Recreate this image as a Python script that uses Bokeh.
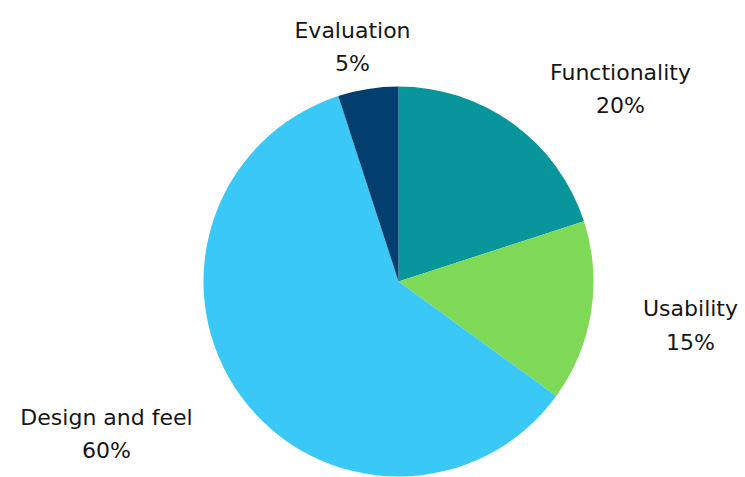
import math
from bokeh.plotting import figure
from bokeh.models import Range1d, ColumnDataSource
from bokeh.embed import file_html
from bokeh.resources import INLINE
from bokeh.core.properties import value

# ---- data ----
categories = ["Functionality", "Usability", "Design and feel", "Evaluation"]
shares = [20, 15, 60, 5]
pct_labels = ["20%", "15%", "60%", "5%"]
colors = ["#08959B", "#7ED957", "#3AC8F6", "#023F6E"]

# ---- layout (pixel space, y measured from top) ----
W, H = 745, 477
cx, cy, r = 398, 281, 195
# label anchors: (x center, name baseline, percent baseline)
label_pos = {
    "Functionality": (620, 72, 105),
    "Usability": (690, 308, 342),
    "Design and feel": (106, 417, 450),
    "Evaluation": (352, 30, 63),
}

total = sum(shares)
starts, ends = [], []
a = math.pi / 2
for s in shares:
    starts.append(a)
    a -= 2 * math.pi * s / total
    ends.append(a)

src = ColumnDataSource(dict(start=starts, end=ends, color=colors, cat=categories))

p = figure(width=W, height=H, x_range=Range1d(0, W), y_range=Range1d(0, H),
           output_backend="svg", toolbar_location=None, min_border=0)
p.axis.visible = False
p.grid.visible = False
p.outline_line_color = None
p.background_fill_color = "white"
p.border_fill_color = "white"

p.wedge(x=cx, y=H - cy, radius=r, start_angle="start", end_angle="end",
        direction="clock", fill_color="color", line_color=None, source=src)

names_x, names_y, pct_y, pct_t = [], [], [], []
for c, t in zip(categories, pct_labels):
    x, ny, py = label_pos[c]
    names_x.append(x)
    names_y.append(H - ny)
    pct_y.append(H - py)
    pct_t.append(t)

font = value("DejaVu Sans")
p.text(x=names_x, y=names_y, text=categories, text_align="center",
       text_baseline="alphabetic", text_font=font, text_font_size="22px",
       text_color="#161616")
p.text(x=names_x, y=pct_y, text=pct_t, text_align="center",
       text_baseline="alphabetic", text_font=font, text_font_size="22px",
       text_color="#161616")

open("out.html", "w").write(file_html(p, INLINE))
